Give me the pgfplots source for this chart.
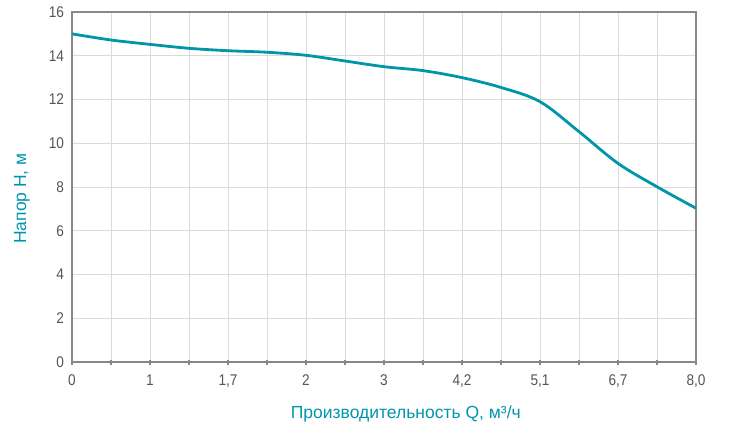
\documentclass[border=0pt]{standalone}
\usepackage{fontspec}
\setmainfont{Liberation Sans}
\newfontfamily\ticksfont{Liberation Sans}[FakeStretch=0.88]
\usepackage{pgfplots}
\pgfplotsset{compat=1.18}
\definecolor{curve}{RGB}{0,150,168}
\definecolor{labteal}{RGB}{0,150,176}
\definecolor{axgray}{RGB}{136,136,136}
\definecolor{gridgray}{RGB}{218,218,218}
\definecolor{tickgray}{RGB}{85,85,85}
\begin{document}
\begin{tikzpicture}
  \useasboundingbox (-72pt,-80pt) rectangle (661pt,362pt);
  \begin{axis}[
    scale only axis,
    width=624pt, height=350pt,
    xmin=0, xmax=8, ymin=0, ymax=16,
    xtick={0,1,...,8},
    xticklabels={0,1,{1,7},2,3,{4,2},{5,1},{6,7},{8,0}},
    minor xtick={0.5,1.5,...,7.5},
    ytick={0,2,...,16},
    xmajorgrids, xminorgrids, ymajorgrids,
    grid style={gridgray, line width=0.9pt},
    minor grid style={gridgray, line width=0.9pt},
    axis line style={axgray, line width=1.6pt},
    xtick pos=bottom,
    ytick style={draw=none},
    xtick style={axgray, line width=1.2pt},
    minor x tick style={axgray, line width=1.2pt},
    tick align=center,
    major tick length=5pt, minor tick length=5pt,
    /pgf/number format/assume math mode=true,
    tick label style={font=\ticksfont\fontsize{15.5}{17}\selectfont, color=tickgray},
    xticklabel style={yshift=-7pt},
    yticklabel style={xshift=-2pt},
    xlabel={Производительность Q, м³/ч},
    ylabel={Напор H, м},
    label style={font=\fontsize{17.5}{20}\selectfont, color=labteal},
    xlabel style={at={(axis description cs:0.535,-0.16)}, anchor=base},
    ylabel style={at={(axis description cs:-0.062,0.467)}, anchor=south},
  ]
    \addplot[curve, line width=2.8pt, smooth, tension=0.55] coordinates {
      (0,15.0) (0.5,14.72) (1,14.52) (1.5,14.34) (2,14.23) (2.5,14.16)
      (3,14.02) (3.5,13.76) (4,13.5) (4.5,13.32) (5,13.0) (5.5,12.55)
      (6,11.9) (6.5,10.53) (7,9.08) (7.5,8.01) (8,7.03)
    };
  \end{axis}
\end{tikzpicture}
\end{document}
